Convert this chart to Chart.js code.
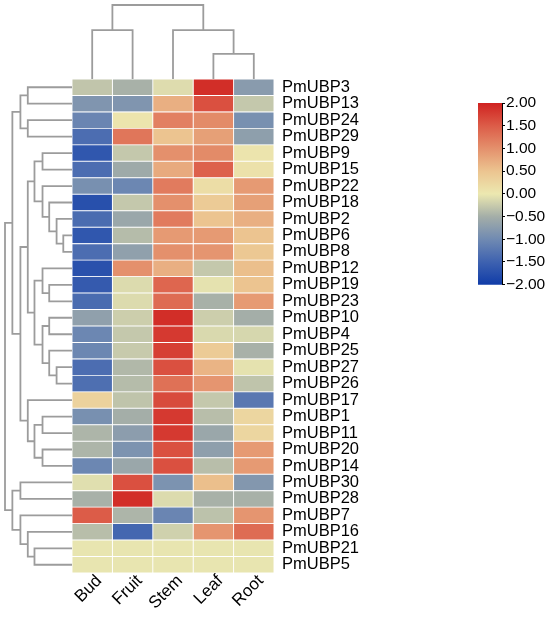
<!DOCTYPE html>
<html>
<head>
<meta charset="utf-8">
<script src="https://cdn.jsdelivr.net/npm/chart.js@4"></script>
<style>
  html, body { margin: 0; padding: 0; background: #fff; }
  #wrap { position: relative; width: 550px; height: 617px; overflow: hidden; }
  canvas { position: absolute; }
</style>
</head>
<body>
<div id="wrap">
  <canvas id="heat" width="370" height="617" style="left:0px;top:0px"></canvas>
  <canvas id="rowTree" width="72" height="494" style="left:0px;top:79px"></canvas>
  <canvas id="colTree" width="202" height="79" style="left:72px;top:0px"></canvas>
  <canvas id="scaleBar" width="80" height="205" style="left:470px;top:90px"></canvas>
</div>
<script>
const genes = ["PmUBP3", "PmUBP13", "PmUBP24", "PmUBP29", "PmUBP9", "PmUBP15",
  "PmUBP22", "PmUBP18", "PmUBP2", "PmUBP6", "PmUBP8", "PmUBP12", "PmUBP19",
  "PmUBP23", "PmUBP10", "PmUBP4", "PmUBP25", "PmUBP27", "PmUBP26", "PmUBP17",
  "PmUBP1", "PmUBP11", "PmUBP20", "PmUBP14", "PmUBP30", "PmUBP28", "PmUBP7",
  "PmUBP16", "PmUBP21", "PmUBP5"];
const tissues = ["Bud", "Fruit", "Stem", "Leaf", "Root"];

// z-scores per tissue, same order as genes
const bud   = [-0.3, -0.85, -1.06, -1.36, -1.65, -1.36, -0.92, -1.74, -1.38, -1.65, -1.36, -1.72, -1.6, -1.38, -0.69,
  -1.04, -1.04, -1.36, -1.34, 0.3, -0.92, -0.44, -0.44, -1.04, -0.08, -0.47, 1.5, -0.36, -0.03, -0.03];
const fruit = [-0.47, -0.85, 0.05, 1.25, -0.28, -0.56, -1.04, -0.28, -0.6, -0.38, -0.69, 1.0, -0.11, -0.11, -0.22,
  -0.28, -0.26, -0.41, -0.38, -0.31, -0.5, -0.73, -0.88, -0.6, 1.6, 1.9, -0.44, -1.44, -0.03, -0.03];
const stem  = [-0.1, 0.7, 1.15, 0.5, 1.0, 0.75, 1.2, 1.0, 1.2, 0.9, 1.0, 0.7, 1.4, 1.35, 1.9,
  1.8, 1.75, 1.6, 1.3, 1.65, 1.8, 1.8, 1.6, 1.6, -0.88, -0.11, -1.06, -0.2, -0.03, -0.03];
const leaf  = [1.9, 1.6, 1.05, 0.85, 1.05, 1.45, 0.15, 0.4, 0.5, 0.9, 0.95, -0.28, -0.05, -0.47, -0.22,
  -0.13, 0.4, 0.65, 0.95, -0.28, -0.36, -0.6, -0.71, -0.36, 0.55, -0.47, -0.33, 0.95, -0.03, -0.03];
const root  = [-0.76, -0.28, -0.92, -0.71, 0.05, 0.1, 0.9, 0.85, 0.7, 0.5, 0.45, 0.55, 0.5, 0.9, -0.5,
  -0.15, -0.47, -0.05, -0.31, -1.22, 0.25, 0.25, 0.9, 0.9, -0.82, -0.47, 0.95, 1.35, -0.03, -0.03];
const series = [bud, fruit, stem, leaf, root];

// clustering trees: [height, left, right], leaves are row / column indexes
const rowTree = [10.0,
  [8.9,
    [7.7, [6.6, 0, 1], [6.6, 2, 3]],
    [7.7,
      [6.6,
        [5.6, [4.4, 4, 5], [4.4, 6, [3.4, 7, [2.3, 8, [1.3, 9, 10]]]]],
        [5.6, [4.4, 11, [3.4, 12, 13]], [4.4, [3.4, 14, 15], [3.4, 16, [2.3, 17, 18]]]]],
      [6.6, 19, [5.6, [4.4, 20, 21], [4.4, 22, 23]]]]],
  [8.9, [7.7, 24, 25], [7.7, 26, [6.6, 27, [5.6, 28, 29]]]]];
const colTree = [10.0, [6.6, 0, 1], [6.6, 2, [3.4, 3, 4]]];

const scaleMin = -2, scaleMax = 2;

Chart.defaults.font.family = 'Arial, "Liberation Sans", sans-serif';
Chart.defaults.color = "#000";
Chart.defaults.animation = false;

const stops = [
  [-2.0, [16, 60, 168]],
  [-1.5, [62, 98, 176]],
  [-1.0, [112, 138, 178]],
  [-0.5, [164, 174, 168]],
  [0.0, [236, 232, 176]],
  [0.5, [236, 196, 144]],
  [1.0, [228, 144, 108]],
  [1.5, [220, 92, 72]],
  [2.0, [208, 34, 32]],
];

function colorOf(v) {
  v = Math.max(scaleMin, Math.min(scaleMax, v));
  for (let i = 1; i < stops.length; i++) {
    if (v <= stops[i][0]) {
      const [v0, c0] = stops[i - 1];
      const [v1, c1] = stops[i];
      const t = (v - v0) / (v1 - v0);
      const c = c0.map((a, k) => Math.round(a + (c1[k] - a) * t));
      return `rgb(${c[0]},${c[1]},${c[2]})`;
    }
  }
  return `rgb(${stops[stops.length - 1][1].join(",")})`;
}

const noPlugins = { legend: { display: false }, tooltip: { enabled: false } };

// heatmap: one stacked horizontal bar per tissue
new Chart(document.getElementById("heat"), {
  type: "bar",
  data: {
    labels: genes,
    datasets: tissues.map((t, j) => ({
      label: t,
      data: genes.map(() => 1),
      backgroundColor: series[j].map(colorOf),
      borderColor: "#fff",
      borderWidth: 0.8,
      borderSkipped: false,
      barPercentage: 1,
      categoryPercentage: 1,
    })),
  },
  options: {
    responsive: false,
    indexAxis: "y",
    layout: { padding: { left: 72, top: 79, right: 0, bottom: 0 } },
    plugins: noPlugins,
    scales: {
      x: {
        type: "linear",
        stacked: true,
        min: 0,
        max: tissues.length,
        grid: { display: false, drawTicks: false },
        border: { display: false },
        afterBuildTicks: (scale) => {
          scale.ticks = tissues.map((_, i) => ({ value: i + 0.5 }));
        },
        afterFit: (scale) => { scale.height = 44; },
        ticks: {
          autoSkip: false,
          minRotation: 45,
          maxRotation: 45,
          padding: -2,
          labelOffset: 7,
          font: { size: 17 },
          callback: (v, i) => tissues[i],
        },
      },
      y: {
        stacked: true,
        position: "right",
        grid: { display: false, drawTicks: false },
        border: { display: false },
        afterFit: (scale) => { scale.width = 96; },
        ticks: { autoSkip: false, padding: 8, font: { size: 16.5 } },
      },
    },
  },
});

function treeLinks(tree, rowWise) {
  const links = [];
  const walk = (node) => {
    if (typeof node === "number") return { pos: node + 0.5, h: 0 };
    const [h, a, b] = node;
    const A = walk(a), B = walk(b);
    const pts = [[A.h, A.pos], [h, A.pos], [h, B.pos], [B.h, B.pos]];
    links.push(pts.map(([hh, p]) => (rowWise ? { x: hh, y: p } : { x: p, y: hh })));
    return { pos: (A.pos + B.pos) / 2, h: h };
  };
  walk(tree);
  return links;
}

function drawTree(id, tree, rowWise, padding, xScale, yScale) {
  new Chart(document.getElementById(id), {
    type: "scatter",
    data: {
      datasets: treeLinks(tree, rowWise).map((pts) => ({
        data: pts,
        showLine: true,
        borderColor: "#9c9c9c",
        borderWidth: 1.8,
        pointRadius: 0,
        tension: 0,
        clip: false,
      })),
    },
    options: {
      responsive: false,
      layout: { padding: padding },
      plugins: noPlugins,
      scales: { x: xScale, y: yScale },
    },
  });
}

drawTree("rowTree", rowTree, true, { left: 5, top: 0, right: 0, bottom: 0 },
  { type: "linear", min: 0, max: rowTree[0], reverse: true, display: false },
  { type: "linear", min: 0, max: genes.length, reverse: true, display: false });

drawTree("colTree", colTree, false, { left: 0, top: 5, right: 0, bottom: 0 },
  { type: "linear", min: 0, max: tissues.length, display: false },
  { type: "linear", min: 0, max: colTree[0], display: false });

// colour key
new Chart(document.getElementById("scaleBar"), {
  type: "bar",
  data: {
    labels: [""],
    datasets: [{
      data: [[scaleMin, scaleMax]],
      barPercentage: 1,
      categoryPercentage: 1,
      backgroundColor: (ctx) => {
        const chart = ctx.chart;
        const area = chart.chartArea;
        if (!area) return null;
        const ys = chart.scales.y;
        const g = chart.ctx.createLinearGradient(0, ys.getPixelForValue(scaleMin), 0, ys.getPixelForValue(scaleMax));
        stops.forEach(([v]) => g.addColorStop((v - scaleMin) / (scaleMax - scaleMin), colorOf(v)));
        return g;
      },
    }],
  },
  options: {
    responsive: false,
    layout: { padding: { left: 8, top: 13, right: 0, bottom: 8 } },
    plugins: noPlugins,
    scales: {
      x: { display: false },
      y: {
        position: "right",
        min: scaleMin,
        max: scaleMax,
        afterFit: (scale) => { scale.width = 48; },
        grid: { drawOnChartArea: false, tickLength: 3, color: "#000" },
        border: { display: true, color: "#000", width: 1 },
        ticks: {
          stepSize: 0.5,
          padding: 1,
          font: { size: 15.5 },
          callback: (v) => (v < 0 ? "\u2212" : "") + Math.abs(v).toFixed(2),
        },
      },
    },
  },
});
</script>
</body>
</html>
